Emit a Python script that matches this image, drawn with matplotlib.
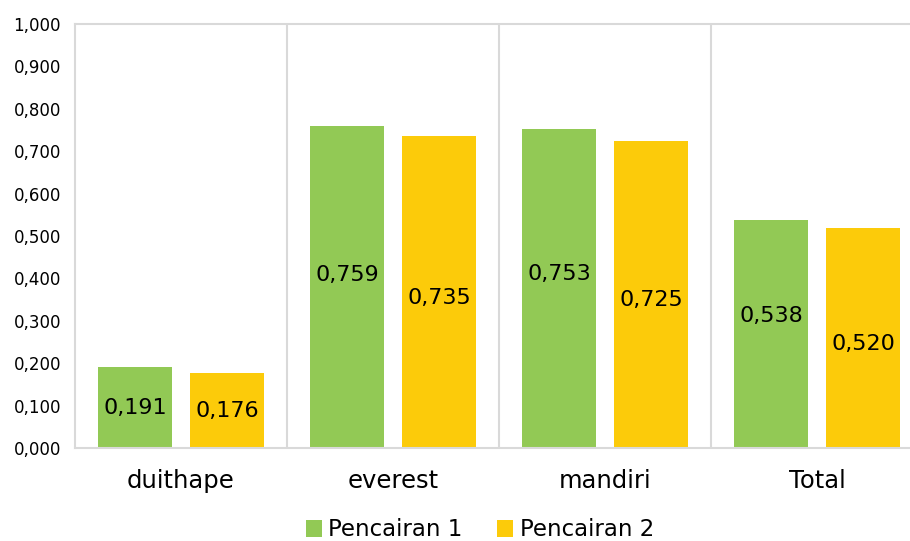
import numpy as np
import matplotlib.pyplot as plt
from matplotlib.ticker import FuncFormatter

categories = ['duithape', 'everest', 'mandiri', 'Total']
pencairan1 = [0.191, 0.759, 0.753, 0.538]
pencairan2 = [0.176, 0.735, 0.725, 0.520]
series_names = ['Pencairan 1', 'Pencairan 2']

green = '#92C955'
yellow = '#FCCB0A'
grid_col = '#D9D9D9'

# label nudges (pixels) so the two centered labels don't collide
nudge1 = [0, 12, 14, 18]
nudge2 = [0, -6, -6, -6]

fig = plt.figure(figsize=(9.1, 5.41), dpi=100)
ax = fig.add_axes([75 / 910, 1 - 448 / 541, 848 / 910, 424 / 541])

x = np.arange(len(categories))
w = 0.35
off = 0.217
ax.bar(x - off, pencairan1, w, color=green, label=series_names[0])
ax.bar(x + off, pencairan2, w, color=yellow, label=series_names[1])

ax.set_xlim(-0.5, len(categories) - 0.5)
ax.set_ylim(0, 1.0)
ax.set_yticks(np.arange(0, 1.01, 0.1))
ax.yaxis.set_major_formatter(FuncFormatter(lambda v, p: f'{v:.3f}'.replace('.', ',')))
ax.set_xticks(x)
ax.set_xticklabels(categories, fontsize=17.5)
ax.tick_params(axis='y', length=0, pad=10, labelsize=12)
ax.tick_params(axis='x', length=0, pad=15)

for s in ax.spines.values():
    s.set_color(grid_col)
    s.set_linewidth(1.5)
for xs in x[:-1] + 0.5:
    ax.axvline(xs, color=grid_col, lw=1.5, zorder=0)

fmt = lambda v: f'{v:.3f}'.replace('.', ',')
for i in range(len(categories)):
    ax.annotate(fmt(pencairan1[i]), (x[i] - off, pencairan1[i] / 2),
                xytext=(0, nudge1[i] * 0.72), textcoords='offset points',
                ha='center', va='center', fontsize=16)
    ax.annotate(fmt(pencairan2[i]), (x[i] + off, pencairan2[i] / 2),
                xytext=(0, nudge2[i] * 0.72), textcoords='offset points',
                ha='center', va='center', fontsize=16)

fig.legend(loc='center', bbox_to_anchor=(480 / 910, 1 - 530 / 541), ncol=2,
           frameon=False, fontsize=16.5, handlelength=0.7, handleheight=0.7,
           handletextpad=0.3, columnspacing=1.5)

fig.savefig('out.png', dpi=100)
